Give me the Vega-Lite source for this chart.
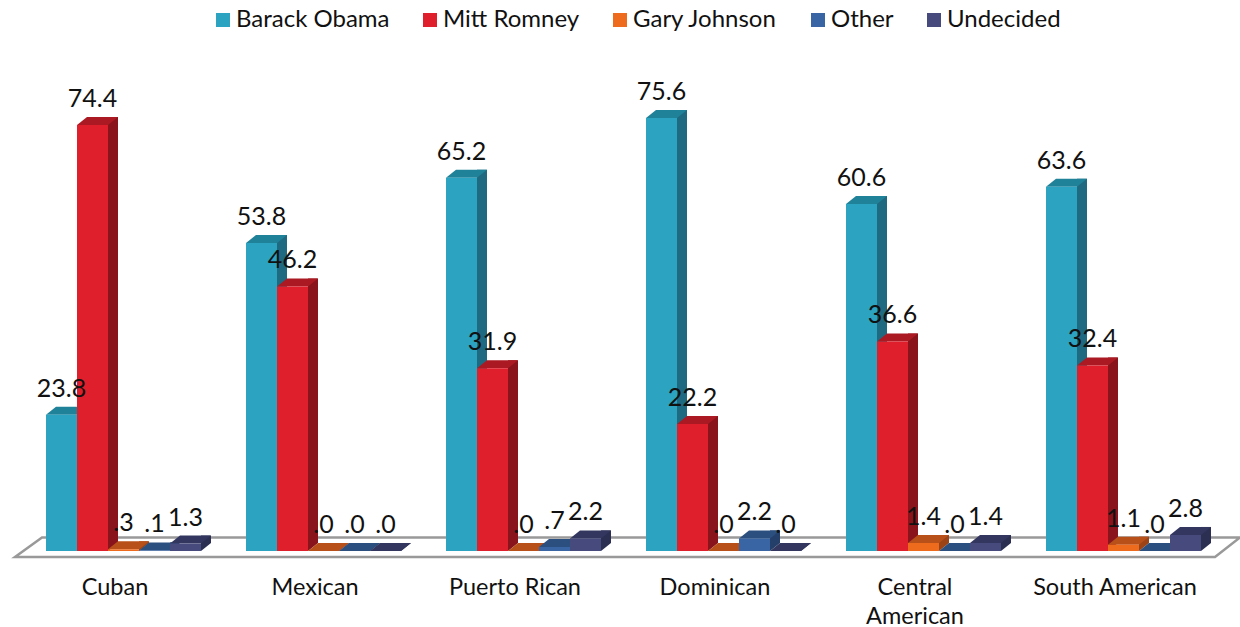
{
"$schema":"https://vega.github.io/schema/vega-lite/v6.json",
"width":1200,"height":500,"autosize":"none",
"padding":{"left":15,"top":51,"right":25,"bottom":76},
"background":"white",
"config":{"view":{"stroke":null},"font":"Lato"},
"data":{"values":[
{"g":"Cuban","s":"Barack Obama","v":23.8,"l":"23.8"},{"g":"Cuban","s":"Mitt Romney","v":74.4,"l":"74.4"},{"g":"Cuban","s":"Gary Johnson","v":0.3,"l":".3"},{"g":"Cuban","s":"Other","v":0.1,"l":".1"},{"g":"Cuban","s":"Undecided","v":1.3,"l":"1.3"},
{"g":"Mexican","s":"Barack Obama","v":53.8,"l":"53.8"},{"g":"Mexican","s":"Mitt Romney","v":46.2,"l":"46.2"},{"g":"Mexican","s":"Gary Johnson","v":0,"l":".0"},{"g":"Mexican","s":"Other","v":0,"l":".0"},{"g":"Mexican","s":"Undecided","v":0,"l":".0"},
{"g":"Puerto Rican","s":"Barack Obama","v":65.2,"l":"65.2"},{"g":"Puerto Rican","s":"Mitt Romney","v":31.9,"l":"31.9"},{"g":"Puerto Rican","s":"Gary Johnson","v":0,"l":".0"},{"g":"Puerto Rican","s":"Other","v":0.7,"l":".7"},{"g":"Puerto Rican","s":"Undecided","v":2.2,"l":"2.2"},
{"g":"Dominican","s":"Barack Obama","v":75.6,"l":"75.6"},{"g":"Dominican","s":"Mitt Romney","v":22.2,"l":"22.2"},{"g":"Dominican","s":"Gary Johnson","v":0,"l":".0"},{"g":"Dominican","s":"Other","v":2.2,"l":"2.2"},{"g":"Dominican","s":"Undecided","v":0,"l":".0"},
{"g":"Central American","s":"Barack Obama","v":60.6,"l":"60.6"},{"g":"Central American","s":"Mitt Romney","v":36.6,"l":"36.6"},{"g":"Central American","s":"Gary Johnson","v":1.4,"l":"1.4"},{"g":"Central American","s":"Other","v":0,"l":".0"},{"g":"Central American","s":"Undecided","v":1.4,"l":"1.4"},
{"g":"South American","s":"Barack Obama","v":63.6,"l":"63.6"},{"g":"South American","s":"Mitt Romney","v":32.4,"l":"32.4"},{"g":"South American","s":"Gary Johnson","v":1.1,"l":"1.1"},{"g":"South American","s":"Other","v":0,"l":".0"},{"g":"South American","s":"Undecided","v":2.8,"l":"2.8"}
]},
"encoding":{
"x":{"field":"g","type":"nominal","sort":null,"title":null,"scale":{"paddingInner":0.225,"paddingOuter":0.1125},
"axis":{"domain":false,"ticks":false,"labelAngle":0,"labelFontSize":23.5,"labelColor":"#111","labelPadding":24,"labelLineHeight":29,"labelFont":"Lato","labelLimit":300,"labelExpr":"datum.label=='Central American'?['Central','American']:datum.label"}},
"xOffset":{"field":"s","type":"nominal","sort":null,"scale":{"type":"band","domain":["Barack Obama","Mitt Romney","Gary Johnson","Other","Undecided"],"range":[8.5,163.5],"paddingInner":0,"paddingOuter":0}},
"y":{"field":"v","type":"quantitative","title":null,"scale":{"domain":[0,87.32],"nice":false},"axis":null}
},
"layer":[
{"transform":[{"filter":"datum.g=='Cuban'&&datum.s=='Barack Obama'"}],
 "mark":{"type":"point","size":4,"filled":true,"fillOpacity":0,"strokeOpacity":1,"opacity":1,"strokeWidth":2.5,"shape":"M-46.5,6L1153.5,6L1178.5,-13.5L-19.5,-13.5Z"},
 "encoding":{"y":{"datum":0},"stroke":{"value":"#999999"}}},
{"mark":{"type":"bar","width":10,"yOffset":-8,"y2Offset":-8},
 "encoding":{"y2":{"datum":0},
  "xOffset":{"field":"s","type":"nominal","sort":null,"scale":{"type":"band","domain":["Barack Obama","Mitt Romney","Gary Johnson","Other","Undecided"],"range":[29,184],"paddingInner":0,"paddingOuter":0}},
  "color":{"field":"s","type":"nominal","legend":null,"scale":{"domain":["Barack Obama","Mitt Romney","Gary Johnson","Other","Undecided"],"range":["#1F6A80","#8A141B","#9C4416","#24406A","#2B2F52"]}}}},
{"mark":{"type":"point","size":4,"filled":true,"opacity":1,"shape":"M15.5,0L25.5,-8L15.5,-8Z"},
 "encoding":{"y":{"datum":0},"color":{"field":"s","type":"nominal","legend":null,"scale":{"domain":["Barack Obama","Mitt Romney","Gary Johnson","Other","Undecided"],"range":["#1F6A80","#8A141B","#9C4416","#24406A","#2B2F52"]}}}},
{"mark":{"type":"point","size":4,"filled":true,"opacity":1,"shape":"M-15.5,0L15.5,0L25.5,-8L-5.5,-8Z"},
 "encoding":{"color":{"field":"s","type":"nominal","legend":null,"scale":{"domain":["Barack Obama","Mitt Romney","Gary Johnson","Other","Undecided"],"range":["#1F8299","#AB1A23","#B8501A","#2B4F7E","#33375F"]}}}},
{"mark":{"type":"bar"},
 "encoding":{"y2":{"datum":0},"color":{"field":"s","type":"nominal","scale":{"domain":["Barack Obama","Mitt Romney","Gary Johnson","Other","Undecided"],"range":["#2CA3C1","#DF1F2B","#EE6A1C","#3A65A5","#474A7D"]},
  "legend":{"title":null,"orient":"none","direction":"horizontal","legendX":196,"legendY":-43,"symbolType":"square","symbolSize":196,"symbolStrokeWidth":0,"labelFontSize":24,"labelColor":"#111","labelFont":"Lato","labelOffset":1,"columnPadding":28,"labelLimit":300}}}},
{"mark":{"type":"text","fontSize":25,"color":"#111","font":"Lato","baseline":"alphabetic","yOffset":-18},
 "encoding":{"text":{"field":"l"}}}
],
"resolve":{"scale":{"color":"independent","xOffset":"independent"}}
}
